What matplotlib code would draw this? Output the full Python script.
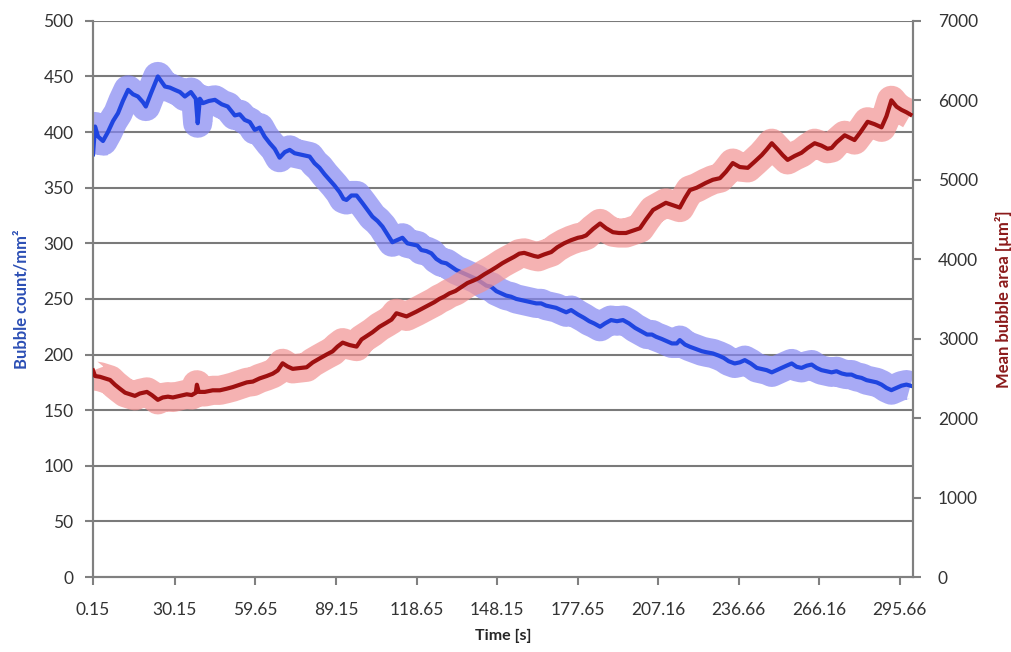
import matplotlib
matplotlib.use('Agg')
import matplotlib.pyplot as plt

plt.rcParams['font.family'] = ['Lato', 'DejaVu Sans']

# bubble count (left axis)
t_count = [0.15, 0.9, 2.0, 3.8, 5.6, 7.5, 9.3, 11.1, 13.0, 14.8, 16.6, 18.4, 19.5, 21.4, 23.9,
           26.5, 28.3, 30.1, 32.0, 33.8, 36.0, 37.8, 38.5, 39.3, 40.4, 42.6, 44.8, 47.3, 49.5, 52.1,
           53.9, 55.7, 57.6, 59.4, 61.2, 63.0, 64.9, 66.7, 68.5, 70.4, 72.2, 74.0, 75.8, 77.7,
           79.5, 81.3, 83.1, 85.0, 86.8, 88.6, 90.5, 91.9, 93.0, 94.8, 96.7, 98.9, 100.7, 102.5,
           104.4, 106.2, 108.0, 109.8, 111.7, 113.5, 115.3, 117.1, 119.0, 120.4, 122.3, 124.1,
           125.9, 127.8, 129.6, 131.4, 133.2, 135.1, 136.9, 138.7, 140.5, 142.4, 144.2, 146.0,
           147.9, 149.7, 151.5, 153.3, 155.2, 157.0, 158.8, 160.7, 162.5, 164.3, 166.1, 168.0,
           169.8, 171.6, 173.5, 175.3, 177.8, 180.0, 181.9, 183.7, 185.9, 187.7, 189.9, 192.1,
           194.3, 196.5, 198.7, 200.9, 203.1, 204.9, 206.4, 208.5, 210.4, 212.2, 214.0, 215.1,
           217.0, 218.8, 221.0, 223.2, 225.0, 227.2, 229.4, 231.2, 233.0, 235.2, 237.1, 238.9,
           241.1, 243.3, 245.1, 246.9, 248.8, 250.6, 252.4, 254.2, 256.1, 257.9, 259.7, 261.6,
           263.4, 265.2, 267.0, 268.9, 270.7, 272.5, 274.4, 276.2, 278.0, 279.8, 281.7, 283.5,
           285.3, 287.2, 289.0, 290.8, 292.6, 294.5, 296.3, 298.1, 299.6]
count = [380, 405, 396, 392, 400, 410, 417, 428, 438, 434, 432, 427, 423, 435, 450,
         441, 440, 438, 436, 432, 436, 430, 408, 430, 426, 428, 429, 425, 423, 415,
         416, 411, 409, 402, 404, 396, 390, 385, 377, 382, 384, 381, 380, 379,
         378, 372, 368, 362, 357, 352, 346, 340, 339, 343, 343, 336, 330, 324,
         320, 315, 308, 301, 303, 305, 300, 299, 298, 294, 293, 291,
         286, 283, 282, 279, 276, 274, 272, 270, 268, 265, 262, 261,
         257, 255, 253, 252, 250, 249, 248, 247, 246, 246, 244, 243,
         242, 240, 238, 240, 236, 233, 230, 228, 225, 228, 231, 230,
         231, 228, 224, 221, 218, 218, 216, 214, 212, 210, 210, 213,
         209, 207, 205, 203, 202, 201, 199, 197, 194, 192, 193, 195,
         192, 188, 187, 186, 184, 186, 188, 190, 192, 189, 188, 190,
         191, 188, 186, 185, 184, 185, 183, 182, 182, 180, 179, 177,
         176, 175, 173, 170, 168, 170, 172, 173, 172]

# mean bubble area (right axis)
t_area = [0.15, 0.9, 2.7, 4.5, 6.4, 8.2, 10.0, 11.9, 13.7, 15.5, 17.3, 19.9, 21.7, 23.9,
          25.7, 27.6, 29.4, 32.0, 34.5, 36.3, 37.8, 38.2, 38.9, 41.1, 44.0, 46.6, 49.1, 51.3,
          53.9, 56.5, 58.7, 61.2, 63.8, 66.0, 67.8, 69.6, 71.4, 73.3, 75.8, 78.4, 80.6, 83.1,
          85.7, 87.9, 89.7, 91.6, 94.1, 96.7, 98.5, 100.3, 102.5, 105.1, 107.6, 109.5, 111.3,
          113.1, 115.0, 116.8, 118.6, 120.8, 123.0, 125.2, 127.0, 128.8, 130.7, 132.9, 135.1,
          137.3, 139.4, 141.3, 143.5, 146.0, 147.9, 150.1, 152.2, 154.4, 156.3, 158.1, 159.9,
          161.8, 163.2, 165.4, 168.0, 170.2, 172.7, 175.3, 177.8, 179.3, 180.8, 183.3, 185.9,
          188.1, 190.6, 192.8, 195.4, 197.9, 200.5, 202.7, 205.3, 207.4, 210.0, 212.6, 215.1,
          217.0, 218.8, 221.3, 224.6, 227.2, 229.8, 232.0, 234.5, 237.1, 240.0, 242.6, 245.1,
          246.9, 248.8, 251.0, 252.8, 254.6, 257.2, 259.7, 261.9, 264.5, 267.0, 269.2, 270.7,
          272.5, 275.5, 277.3, 279.1, 281.3, 283.9, 286.4, 289.0, 290.8, 292.6, 294.5, 296.3,
          298.1, 299.6]
area = [2600, 2530, 2520, 2500, 2480, 2420, 2370, 2320, 2300, 2280, 2310, 2330, 2290, 2230,
        2260, 2270, 2260, 2280, 2300, 2290, 2320, 2420, 2330, 2330, 2350, 2350, 2370, 2390,
        2420, 2450, 2460, 2500, 2530, 2560, 2600, 2690, 2650, 2620, 2630, 2640, 2700, 2750,
        2800, 2840, 2900, 2950, 2920, 2900, 2990, 3030, 3080, 3150, 3200, 3240, 3320,
        3300, 3280, 3310, 3340, 3380, 3420, 3460, 3500, 3530, 3570, 3600, 3650,
        3700, 3730, 3760, 3810, 3860, 3900, 3950, 3990, 4030, 4070, 4080, 4060,
        4040, 4030, 4060, 4090, 4150, 4200, 4240, 4270, 4280, 4300, 4380, 4450,
        4390, 4340, 4330, 4330, 4360, 4390, 4500, 4620, 4660, 4710, 4680, 4650,
        4770, 4870, 4900, 4960, 5000, 5020, 5100, 5210, 5160, 5150, 5230, 5310,
        5380, 5460, 5380, 5310, 5250, 5300, 5340, 5400, 5460, 5430, 5390, 5400,
        5470, 5560, 5530, 5500, 5600, 5730, 5700, 5660, 5800, 6000, 5920, 5880,
        5850, 5820]

xtick_pos = [0.15, 30.15, 59.65, 89.15, 118.65, 148.15, 177.65, 207.16, 236.66, 266.16, 295.66]
xtick_lab = ['0.15', '30.15', '59.65', '89.15', '118.65', '148.15', '177.65',
             '207.16', '236.66', '266.16', '295.66']

fig = plt.figure(figsize=(10.11, 6.52), dpi=100)
ax1 = fig.add_axes([0.092, 0.115, 0.811, 0.853])
ax2 = ax1.twinx()

# grid lines on left scale
for v in range(50, 501, 50):
    ax1.axhline(v, color='#7a7a7a', lw=1.5, zorder=1)

# light bands then the lines
ax1.plot(t_count, count, color='#8486f2', lw=21, alpha=0.7, solid_capstyle='butt',
         solid_joinstyle='round', zorder=2)
ax1.plot(t_count, count, color='#1f45e0', lw=3, zorder=3)
ax2.plot(t_area, area, color='#f29292', lw=21, alpha=0.7, solid_capstyle='butt',
         solid_joinstyle='round', zorder=2)
ax2.plot(t_area, area, color='#9e1010', lw=3, zorder=3)

ax1.set_xlim(0.15, 300.5)
ax1.set_ylim(0, 500)
ax2.set_ylim(0, 7000)
ax1.set_yticks(range(0, 501, 50))
ax2.set_yticks(range(0, 7001, 1000))
ax1.set_xticks(xtick_pos)
ax1.set_xticklabels(xtick_lab)

for ax in (ax1, ax2):
    for s in ax.spines.values():
        s.set_color('#808080')
        s.set_linewidth(1.5)
    ax.spines['top'].set_visible(False)
    ax.tick_params(colors='#808080', width=1.5, length=6, labelcolor='#333333', labelsize=12.5)
ax1.tick_params(axis='x', pad=12)
ax1.tick_params(axis='y', pad=8)
ax2.tick_params(axis='y', pad=12)

ax1.set_xlabel('Time [s]', fontsize=11.5, fontweight='bold', color='#262626', labelpad=8)
ax1.set_ylabel('Bubble count/mm²', fontsize=12, fontweight='bold', color='#2c4fb5', labelpad=10)
ax2.set_ylabel('Mean bubble area [µm²]', fontsize=12, fontweight='bold', color='#8b1a1a', labelpad=12)

fig.savefig('out.png', dpi=100)
